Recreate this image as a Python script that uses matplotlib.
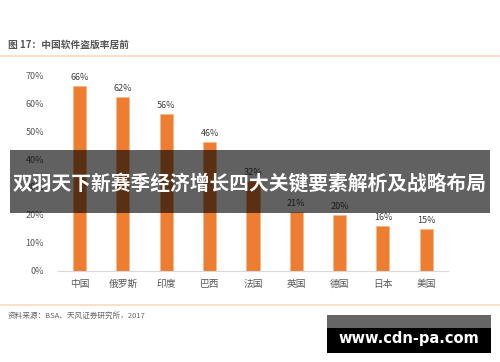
import matplotlib.pyplot as plt
from matplotlib.patches import Rectangle

plt.rcParams['font.family'] = ['Noto Sans CJK SC', 'DejaVu Sans']

countries = ['中国', '俄罗斯', '印度', '巴西', '法国', '英国', '德国', '日本', '美国']
piracy = [66, 62, 56, 46, 32, 21, 20, 16, 15]
yticks = [0, 10, 20, 30, 40, 50, 60, 70]

fig = plt.figure(figsize=(5, 3.62), dpi=100)
ax = fig.add_axes([0.116, 0.2514, 0.78, 0.5414])

x = range(len(countries))
ax.bar(x, piracy, width=0.3, color='#ED7D31', edgecolor='#f6b98c', linewidth=0.5, zorder=2)
for i, v in enumerate(piracy):
    ax.text(i, v + 1.6, str(v) + '%', ha='center', va='bottom', fontsize=6.5, color='#404040')

ax.set_xlim(-0.5, 8.5)
ax.set_ylim(0, 70)
ax.set_yticks(yticks)
ax.set_yticklabels([str(t) + '%' for t in yticks], fontsize=6.5, color='#595959')
ax.set_xticks(list(x))
ax.set_xticklabels(countries, fontsize=7, color='#595959')
ax.tick_params(axis='both', length=0)
ax.tick_params(axis='x', pad=6)
ax.tick_params(axis='y', pad=10)
for s in ['top', 'right', 'left']:
    ax.spines[s].set_visible(False)
ax.spines['bottom'].set_color('#d9d9d9')
ax.spines['bottom'].set_linewidth(0.8)

# header / footer
fig.text(0.016, 1 - 45 / 362, '图 17：中国软件盗版率居前', fontsize=7, color='#555555',
         fontweight='bold', va='center', ha='left')
fig.add_artist(plt.Line2D([0, 1], [1 - 56 / 362] * 2, color='#fbd9bd', linewidth=1.2))
fig.add_artist(plt.Line2D([0, 1], [1 - 305 / 362] * 2, color='#fbd9bd', linewidth=1.2))
fig.text(0.016, 1 - 316 / 362, '资料来源：BSA、天风证券研究所，2017', fontsize=5.5, color='#666666',
         va='center', ha='left')

# overlay banner
fig.add_artist(Rectangle((10 / 500, 1 - 213 / 362), 480 / 500, 63 / 362,
                         transform=fig.transFigure, color='black', alpha=0.62, linewidth=0))
fig.text(0.5, 1 - 184 / 362, '双羽天下新赛季经济增长四大关键要素解析及战略布局', fontsize=14.2,
         color='white', fontweight='bold', ha='center', va='center')

# watermark
fig.add_artist(Rectangle((327 / 500, 1 - 328 / 362), 164 / 500, 13 / 362,
                         transform=fig.transFigure, color='#666666', linewidth=0))
fig.add_artist(Rectangle((327 / 500, 1 - 353 / 362), 164 / 500, 25 / 362,
                         transform=fig.transFigure, color='black', linewidth=0))
fig.text(409 / 500, 1 - 338 / 362, 'www.cdn-pa.com', fontsize=10.5, color='white',
         fontweight='bold', ha='center', va='center', family='DejaVu Sans')

fig.savefig('out.png', dpi=100)
